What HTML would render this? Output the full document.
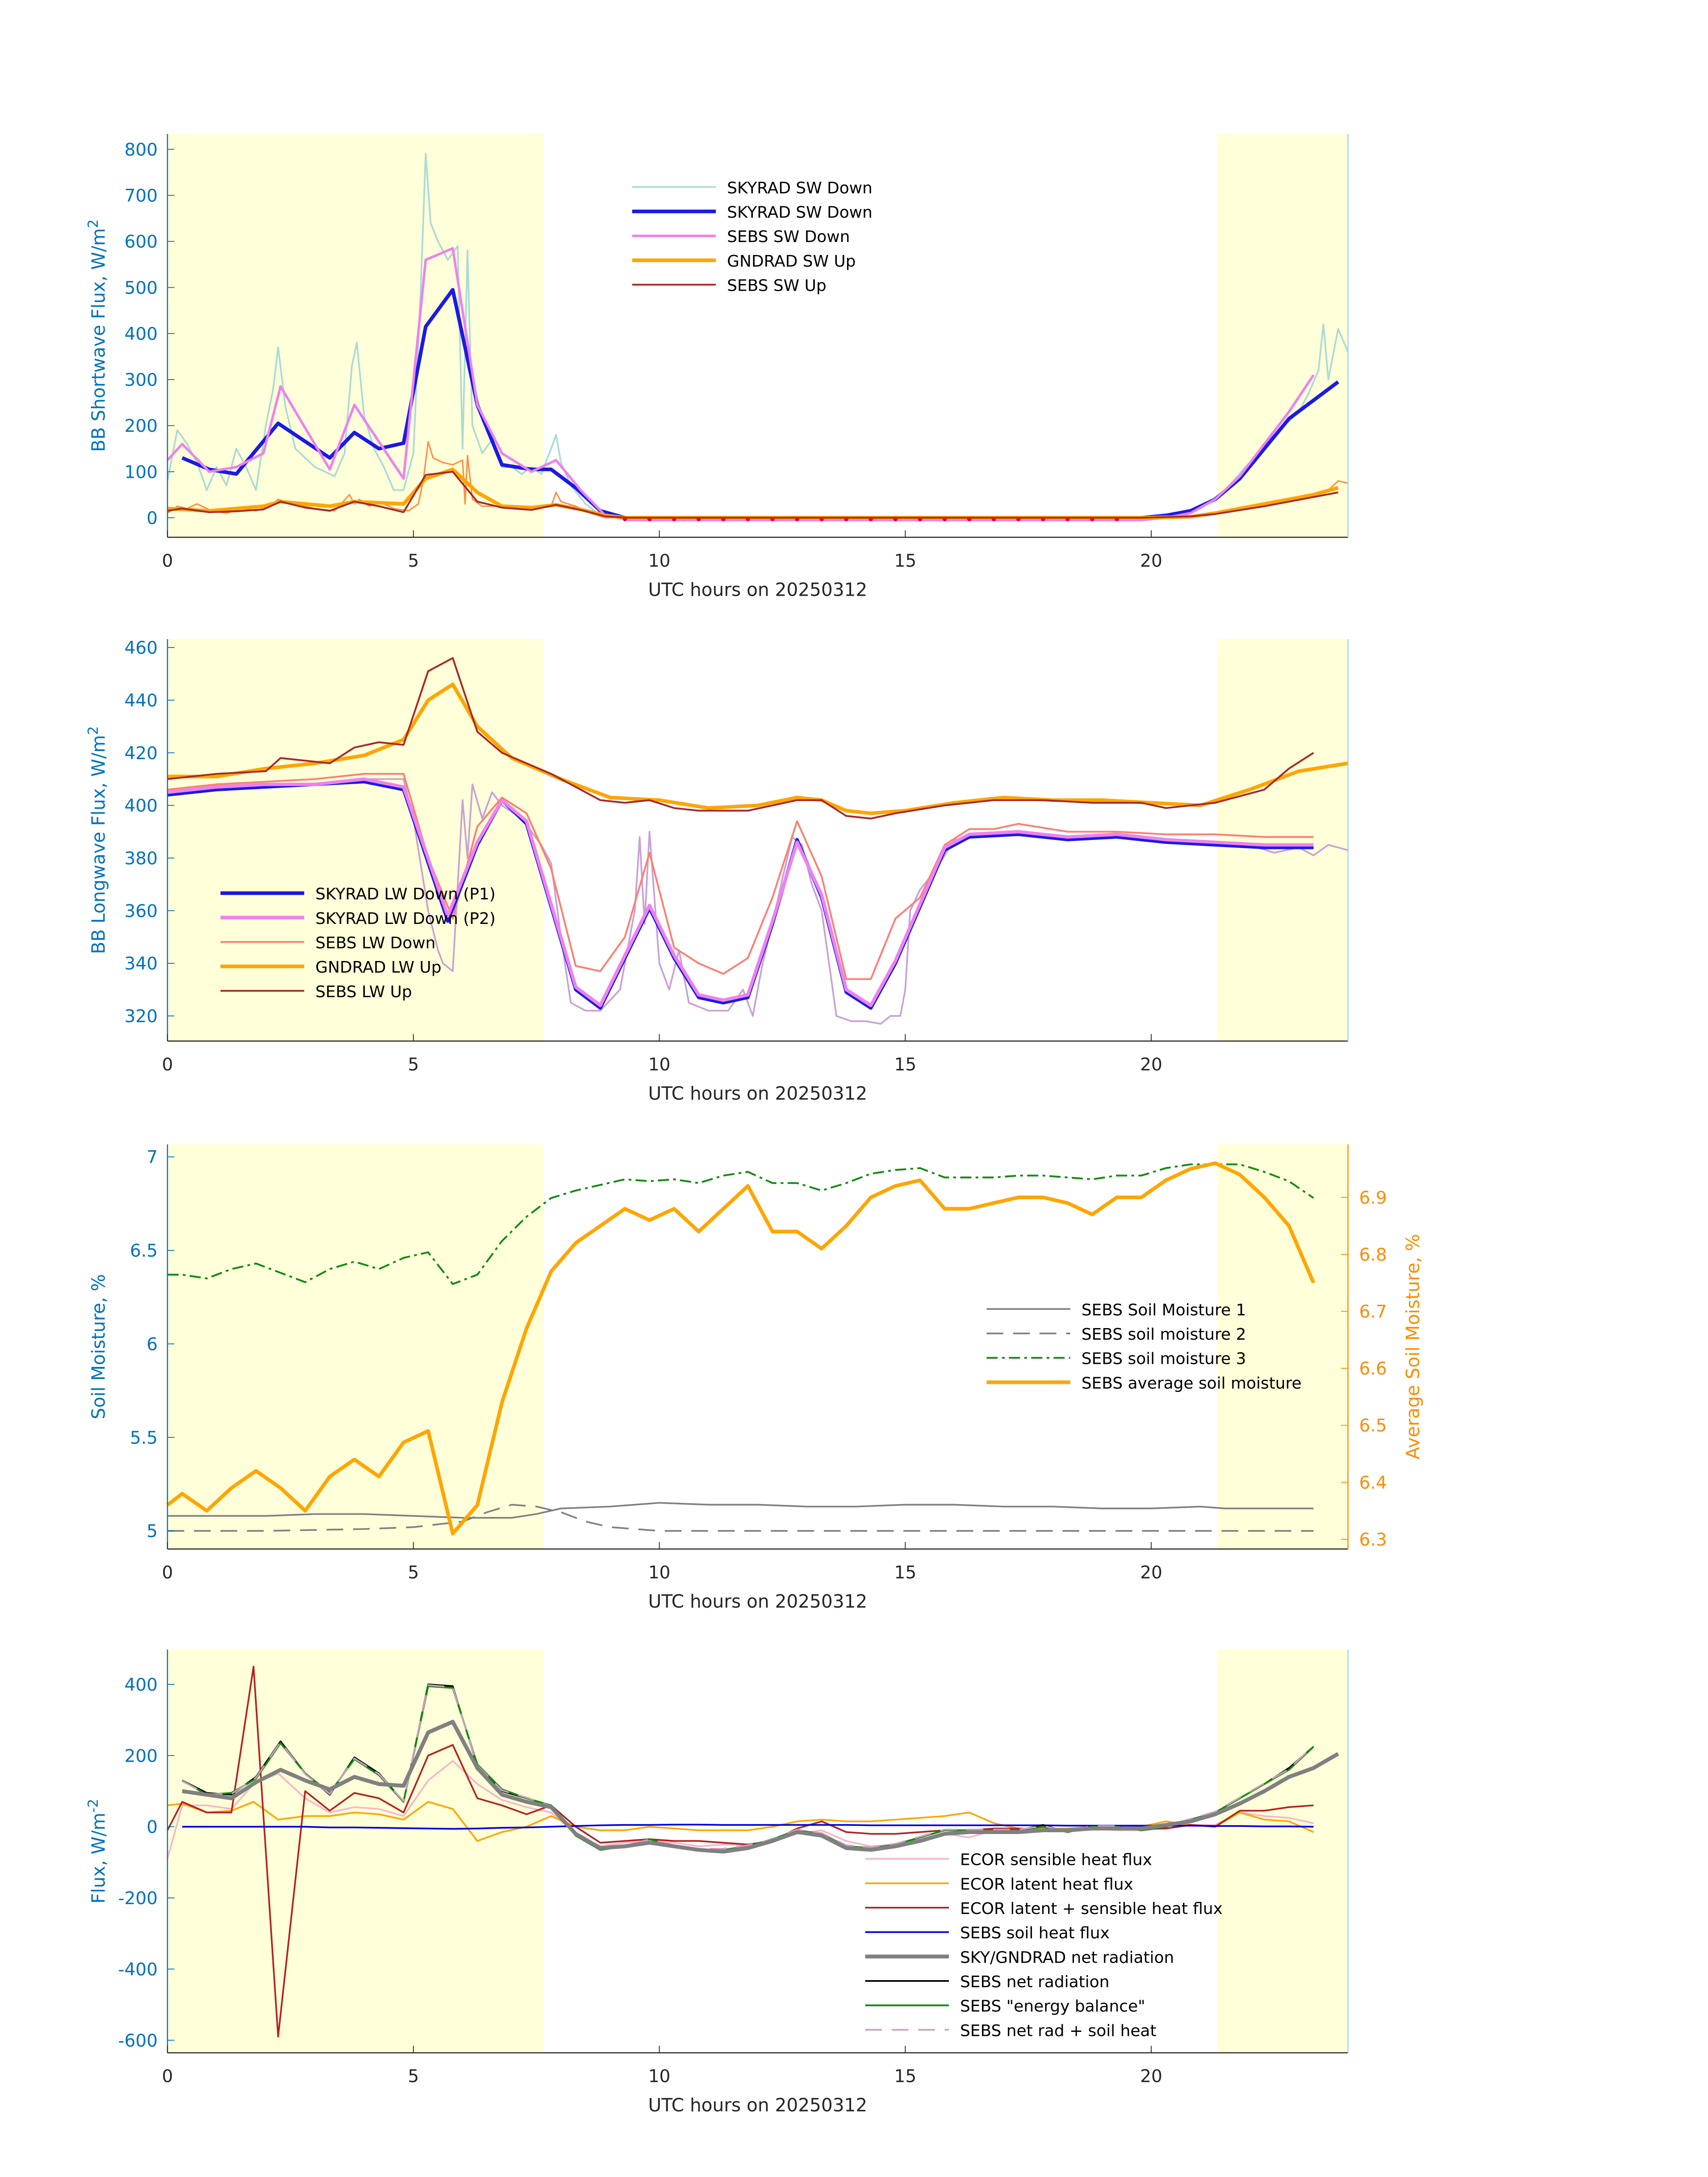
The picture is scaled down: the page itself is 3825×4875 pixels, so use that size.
<!DOCTYPE html>
<html><head><meta charset="utf-8">
<style>
html,body{margin:0;padding:0;background:#fff;}
svg{display:block;font-family:"DejaVu Sans","Liberation Sans",sans-serif;}
</style></head>
<body>
<svg id="fig" xmlns="http://www.w3.org/2000/svg" width="3825" height="4875" viewBox="0 0 1224 1560">
<rect x="0" y="0" width="1224" height="1560" fill="#fff"/>
</svg>
<script>
// ---------- Panel 1 data (shortwave) ----------
const swSkyRawH = [0,0.2,0.4,0.6,0.8,1.0,1.2,1.4,1.6,1.8,2.0,2.15,2.25,2.4,2.6,2.8,3.0,3.2,3.4,3.6,3.75,3.85,4.0,4.2,4.4,4.6,4.8,5.0,5.15,5.25,5.35,5.5,5.7,5.9,6.0,6.1,6.2,6.4,6.6,6.8,7.0,7.2,7.4,7.6,7.8,7.9,8.0,8.2,8.5,8.8,9.1,9.4,20,20.5,21,21.5,22,22.5,23,23.2,23.4,23.5,23.6,23.8,24];
const swSkyRawV = [80,190,160,120,60,110,70,150,110,60,200,280,370,240,150,130,110,100,90,140,330,380,220,150,110,60,60,140,500,790,640,600,560,590,150,580,200,140,170,110,110,95,110,95,150,180,120,70,30,5,0,0,0,5,20,60,120,180,230,270,320,420,300,410,360];
const swSkyH = [0.3,0.85,1.4,2.25,3.3,3.8,4.3,4.8,5.25,5.8,6.3,6.8,7.4,7.8,8.3,8.8,9.3,19.8,20.3,20.8,21.3,21.8,22.3,22.8,23.3,23.8];
const swSkyV = [130,105,95,205,130,185,150,162,415,495,245,115,105,105,65,15,0,0,5,15,40,85,150,215,255,295];
const swSebsDnH = [0,0.3,0.85,1.4,1.95,2.3,3.3,3.8,4.8,5.25,5.8,6.3,6.8,7.4,7.9,8.4,8.9,9.4,19.8,20.3,20.8,21.3,21.8,22.3,22.8,23.3];
const swSebsDnV = [125,160,100,110,140,285,105,245,85,560,585,245,140,100,125,60,5,-5,-5,0,10,40,90,160,230,310];
const swGndH = [0,0.85,1.95,2.3,3.3,3.8,4.8,5.25,5.8,6.3,6.8,7.4,7.9,8.4,8.9,9.3,19.8,20.8,21.3,22.3,23.3,23.8];
const swGndV = [20,15,25,35,25,35,30,85,105,55,25,22,28,18,5,0,0,2,10,30,50,65];
const swSebsUpH = [0,0.3,0.85,1.4,1.95,2.3,2.8,3.3,3.8,4.3,4.8,5.25,5.8,6.3,6.8,7.4,7.9,8.4,8.9,9.4,19.8,20.8,21.3,22.3,23.3,23.8];
const swSebsUpV = [15,20,12,14,18,35,22,15,35,25,12,93,100,35,22,17,28,17,3,0,0,3,8,25,45,55];
const swRawUpH = [0,0.2,0.4,0.6,0.9,1.2,1.5,1.8,2.1,2.25,2.4,2.6,3.0,3.4,3.7,3.8,3.9,4.1,4.3,4.6,4.9,5.1,5.2,5.3,5.4,5.6,5.8,6.0,6.05,6.1,6.2,6.4,6.7,7.0,7.4,7.8,7.9,8.0,8.3,8.6,8.9,20,21,22,23,23.4,23.6,23.8,24];
const swRawUpV = [10,25,20,30,15,10,20,15,25,40,35,30,20,15,50,30,40,25,35,20,15,30,80,165,130,120,115,125,30,135,40,25,25,20,20,25,55,35,25,10,0,0,5,25,40,55,60,80,75];
const swRedDotsH = [9.3,9.8,10.3,10.8,11.3,11.8,12.3,12.8,13.3,13.8,14.3,14.8,15.3,15.8,16.3,16.8,17.3,17.8,18.3,18.8,19.3];
const swTicks = [0,100,200,300,400,500,600,700,800];

// ---------- Panel 2 data (longwave) ----------
const lwP1H = [0,1,2,3,4,4.8,5.7,6.3,6.8,7.3,8.3,8.8,9.8,10.3,10.8,11.3,11.8,12.3,12.8,13.3,13.8,14.3,14.8,15.8,16.3,17.3,18.3,19.3,20.3,21.3,22.3,23.3];
const lwP1V = [404,406,407,408,409,406,356,385,402,393,330,323,361,342,327,325,327,355,387,365,329,323,340,383,388,389,387,388,386,385,384,384];
const lwP2V = [405,407,408,408,410,407,358,386,402,394,331,324,362,343,328,326,328,356,386,366,330,324,341,384,389,390,388,389,387,386,385,385];
const lwRawH = [0,1,2,3,4,4.8,5.0,5.3,5.5,5.6,5.8,6.0,6.1,6.2,6.4,6.6,6.8,7.2,7.6,7.8,8.0,8.2,8.5,8.8,9.2,9.5,9.6,9.7,9.8,10.0,10.2,10.4,10.6,11.0,11.4,11.7,11.9,12.1,12.3,12.5,12.7,12.9,13.1,13.3,13.6,13.9,14.2,14.5,14.7,14.9,15.0,15.1,15.3,15.6,16,17,18,19,20,21,22,22.5,23,23.3,23.6,24];
const lwRawV = [404,406,407,408,410,410,395,360,345,340,337,402,380,408,395,405,400,395,385,378,350,325,322,322,330,360,388,355,390,340,330,345,325,322,322,330,320,340,355,372,388,385,370,360,320,318,318,317,320,320,330,360,368,375,387,389,388,388,387,386,385,382,384,381,385,383];
const lwSebsDnH = [0,1,2,3,4,4.8,5.3,5.8,6.3,6.8,7.3,7.8,8.3,8.8,9.3,9.8,10.3,10.8,11.3,11.8,12.3,12.8,13.3,13.8,14.3,14.8,15.3,15.8,16.3,16.8,17.3,18.3,19.3,20.3,21.3,22.3,23.3];
const lwSebsDnV = [406,408,409,410,412,412,380,357,392,403,397,376,339,337,350,382,346,340,336,342,365,394,373,334,334,357,365,385,391,391,393,390,390,389,389,388,388];
const lwGndH = [0,1,2,3,4,4.8,5.3,5.8,6.3,7,8,9,10,11,12,12.8,13.3,13.8,14.3,15,16,17,18,19,20,21,22,23,24];
const lwGndV = [411,411,414,416,419,425,440,446,430,418,410,403,402,399,400,403,402,398,397,398,401,403,402,402,401,400,406,413,416];
const lwSebsUpH = [0,1,2,2.3,3.3,3.8,4.3,4.8,5.3,5.8,6.3,6.8,7.8,8.3,8.8,9.3,9.8,10.3,10.8,11.8,12.8,13.3,13.8,14.3,14.8,15.8,16.8,17.8,18.8,19.8,20.3,21.3,22.3,22.8,23.3];
const lwSebsUpV = [410,412,413,418,416,422,424,423,451,456,428,420,412,407,402,401,402,399,398,398,402,402,396,395,397,400,402,402,401,401,399,401,406,414,420];
const lwTicks = [320,340,360,380,400,420,440,460];

// ---------- Panel 3 data (soil moisture) ----------
const smH1 = [0,1,2,3,4,5,6,7,7.5,8,9,10,11,12,13,14,15,16,17,18,19,20,21,21.5,22,23,23.3];
const sm1V = [5.08,5.08,5.08,5.09,5.09,5.08,5.07,5.07,5.09,5.12,5.13,5.15,5.14,5.14,5.13,5.13,5.14,5.14,5.13,5.13,5.12,5.12,5.13,5.12,5.12,5.12,5.12];
const sm2H = [0,2,4,5,6,6.5,7,7.5,8,8.5,9,10,12,14,16,18,20,22,23.3];
const sm2V = [5.0,5.0,5.01,5.02,5.05,5.1,5.14,5.13,5.1,5.05,5.02,5.0,5.0,5.0,5.0,5.0,5.0,5.0,5.0];
const smH = [0,0.3,0.8,1.3,1.8,2.3,2.8,3.3,3.8,4.3,4.8,5.3,5.8,6.3,6.8,7.3,7.8,8.3,8.8,9.3,9.8,10.3,10.8,11.3,11.8,12.3,12.8,13.3,13.8,14.3,14.8,15.3,15.8,16.3,16.8,17.3,17.8,18.3,18.8,19.3,19.8,20.3,20.8,21.3,21.8,22.3,22.8,23.3];
const sm3V = [6.37,6.37,6.35,6.4,6.43,6.38,6.33,6.4,6.44,6.4,6.46,6.49,6.32,6.37,6.55,6.68,6.78,6.82,6.85,6.88,6.87,6.88,6.86,6.9,6.92,6.86,6.86,6.82,6.86,6.91,6.93,6.94,6.89,6.89,6.89,6.9,6.9,6.89,6.88,6.9,6.9,6.94,6.96,6.96,6.96,6.92,6.87,6.78];
const smAvgV = [6.36,6.38,6.35,6.39,6.42,6.39,6.35,6.41,6.44,6.41,6.47,6.49,6.31,6.36,6.54,6.67,6.77,6.82,6.85,6.88,6.86,6.88,6.84,6.88,6.92,6.84,6.84,6.81,6.85,6.9,6.92,6.93,6.88,6.88,6.89,6.9,6.9,6.89,6.87,6.9,6.9,6.93,6.95,6.96,6.94,6.9,6.85,6.75];
const smLeftTicks = [5,5.5,6,6.5,7];
const smRightTicks = [6.3,6.4,6.5,6.6,6.7,6.8,6.9];

// ---------- Panel 4 data (fluxes) ----------
const fxH = [0.3,0.8,1.3,1.8,2.3,2.8,3.3,3.8,4.3,4.8,5.3,5.8,6.3,6.8,7.3,7.8,8.3,8.8,9.3,9.8,10.3,10.8,11.3,11.8,12.3,12.8,13.3,13.8,14.3,14.8,15.3,15.8,16.3,16.8,17.3,17.8,18.3,18.8,19.3,19.8,20.3,20.8,21.3,21.8,22.3,22.8,23.3];
const fxNetGnd = [100,90,80,125,160,130,105,140,120,115,265,295,165,90,70,55,-20,-60,-55,-45,-55,-65,-70,-60,-40,-15,-25,-60,-65,-55,-40,-20,-15,-15,-15,-10,-10,-5,-5,-5,5,15,35,65,100,140,165];
const fxNetGndH2 = [23.8];
const fxNetGndV2 = [205];
const fxSebsNet = [130,95,90,140,240,150,90,195,150,70,400,395,170,100,80,60,-25,-65,-55,-35,-55,-65,-65,-55,-35,-10,-20,-55,-60,-50,-30,-10,-10,-10,-10,5,-15,0,0,-10,0,20,40,80,120,165,225];
const fxEnergyBal = [130,90,95,135,235,150,95,190,145,70,395,390,175,105,80,60,-25,-65,-55,-35,-55,-65,-65,-55,-35,-10,-20,-55,-60,-50,-30,-10,-10,-10,-10,0,-15,0,0,-10,0,20,40,80,120,160,225];
const fxNetSoil = [128,92,92,138,238,148,92,192,148,72,398,392,172,102,82,58,-22,-62,-52,-36,-52,-62,-62,-52,-36,-8,-18,-52,-58,-48,-28,-8,-8,-8,-8,2,-12,2,2,-8,2,22,42,82,122,162,228];
const fxEcorH = [0,0.3,0.8,1.3,1.75,2.25,2.8,3.3,3.8,4.3,4.8,5.3,5.8,6.3,6.8,7.3,7.8,8.3,8.8,9.3,9.8,10.3,10.8,11.3,11.8,12.3,12.8,13.3,13.8,14.3,14.8,15.3,15.8,16.3,16.8,17.3,17.8,18.3,18.8,19.3,19.8,20.3,20.8,21.3,21.8,22.3,22.8,23.3];
const fxSens = [-90,60,60,50,120,150,80,40,55,50,30,130,185,120,75,55,40,-20,-55,-45,-40,-45,-55,-50,-50,-40,-20,-10,-40,-55,-50,-35,-20,-30,-10,-10,-5,-10,-5,-10,-10,-5,5,5,40,30,25,10];
const fxLat = [60,65,40,45,70,20,30,30,40,35,20,70,50,-40,-15,0,30,0,-10,-10,0,-5,-10,-10,-10,0,15,20,15,15,20,25,30,40,10,-5,-5,-5,0,-5,0,15,5,0,40,20,15,-15];
const fxLatSens = [-10,70,40,40,450,-590,100,45,95,80,40,200,230,80,60,35,60,0,-45,-40,-35,-40,-40,-45,-50,-40,-5,15,-15,-20,-20,-15,-10,-10,-5,-5,-10,-10,-5,-5,-5,-5,5,0,45,45,55,60];
const fxSoil = [0,0,0,0,0,0,-2,-2,-3,-4,-5,-6,-5,-3,-2,0,2,4,5,5,6,6,5,5,5,5,5,5,4,4,4,4,4,4,4,4,3,3,3,3,3,3,2,2,1,1,0,0];
const fxTicks = [-600,-400,-200,0,200,400];

const xTicks = [0,5,10,15,20];
</script>
<script>
const NS = "http://www.w3.org/2000/svg";
const svg = document.getElementById('fig');
const AX_L = 120, AX_R = 966;
const X = h => AX_L + (AX_R - AX_L) * h / 24;
function el(tag, attrs, parent) {
  const e = document.createElementNS(NS, tag);
  for (const k in attrs) e.setAttribute(k, attrs[k]);
  (parent || svg).appendChild(e);
  return e;
}
function yScale(top, bottom, v0, p0, v1, p1) { return v => p0 + (v - v0) * (p1 - p0) / (v1 - v0); }
function line(hs, vs, Y, stroke, width, name, dash, g) {
  let d = '';
  for (let i = 0; i < hs.length && i < vs.length; i++) d += (i ? 'L' : 'M') + X(hs[i]).toFixed(2) + ' ' + Y(vs[i]).toFixed(2);
  const p = el('path', {d: d, fill: 'none', stroke: stroke, 'stroke-width': width, 'stroke-linejoin': 'round'}, g);
  if (dash) p.setAttribute('stroke-dasharray', dash);
  
  
  return p;
}
function panel(idx, top, bottom, ticks, Y, ylabel, sub) {
  const g = el('g', {});
  
  
  const s1 = el('rect', {x: X(0), y: top, width: X(7.65) - X(0), height: bottom - top, fill: '#ffffd9'}, g);
  
  
  const s2 = el('rect', {x: X(21.35), y: top, width: X(24) - X(21.35), height: bottom - top, fill: '#ffffd9'}, g);
  
  
  const plot = el('g', {}, g);
  
  
  const ax = el('g', {}, g);
  
  
  el('line', {x1: AX_L, y1: top, x2: AX_L, y2: bottom, stroke: '#0072BD', 'stroke-width': 0.8}, ax);
  el('line', {x1: AX_L, y1: bottom, x2: AX_R, y2: bottom, stroke: '#262626', 'stroke-width': 0.8}, ax);
  if (idx !== 3) el('line', {x1: AX_R, y1: top, x2: AX_R, y2: bottom, stroke: '#9fd3ef', 'stroke-width': 0.8}, ax);
  for (const t of xTicks) {
    el('line', {x1: X(t), y1: bottom, x2: X(t), y2: bottom - 5, stroke: '#262626', 'stroke-width': 0.6}, ax);
    const tx = el('text', {x: X(t), y: bottom + 21, 'font-size': 12.5, 'text-anchor': 'middle', fill: '#262626'}, ax);
    tx.textContent = t;
    
    
  }
  for (const t of ticks) {
    el('line', {x1: AX_L, y1: Y(t), x2: AX_L + 5, y2: Y(t), stroke: '#0072BD', 'stroke-width': 0.6}, ax);
    const ty = el('text', {x: AX_L - 7, y: Y(t) + 4.5, 'font-size': 12.5, 'text-anchor': 'end', fill: '#0072BD'}, ax);
    ty.textContent = t;
    
    
  }
  const xl = el('text', {x: 543, y: bottom + 42, 'font-size': 13, 'text-anchor': 'middle', fill: '#262626'}, ax);
  xl.textContent = 'UTC hours on 20250312';
  
  
  const cy = (top + bottom) / 2;
  const yl = el('text', {x: 0, y: 0, 'font-size': 13, 'text-anchor': 'middle', fill: '#0072BD', transform: 'translate(75,' + cy + ') rotate(-90)'}, ax);
  yl.textContent = ylabel;
  if (sub) { const ts = el('tspan', {dy: -5, 'font-size': 10}, yl); ts.textContent = sub; }
  
  
  return plot;
}
function legend(x, y0, dy, entries) {
  const g = el('g', {});
  
  
  entries.forEach((e, i) => {
    const y = y0 + i * dy;
    const item = el('g', {}, g);
    
    
    const l = el('line', {x1: x, y1: y, x2: x + 60, y2: y, stroke: e[1], 'stroke-width': e[2]}, item);
    if (e[3]) l.setAttribute('stroke-dasharray', e[3]);
    const t = el('text', {x: x + 68, y: y + 4.5, 'font-size': 11.5, fill: '#000'}, item);
    t.textContent = e[0];
  });
}

// Panel 1
{
  const Y = yScale(96, 385, 0, 371, 800, 107);
  const p = panel(1, 96, 385, swTicks, Y, 'BB Shortwave Flux, W/m', '2');
  line(swSkyRawH, swSkyRawV, Y, '#a9dbd6', 1.2, 'skyrad-sw-down-1min-line', null, p);
  line(swRawUpH, swRawUpV, Y, '#ff8c42', 1, 'sebs-sw-up-raw-line', null, p);
  line(swSkyH, swSkyV, Y, '#1a1ae6', 2.6, 'skyrad-sw-down-line', null, p);
  line(swSebsDnH, swSebsDnV, Y, '#ee82ee', 1.8, 'sebs-sw-down-line', null, p);
  line(swGndH, swGndV, Y, '#ffa500', 2.6, 'gndrad-sw-up-line', null, p);
  line(swSebsUpH, swSebsUpV, Y, '#a52a2a', 1.3, 'sebs-sw-up-line', null, p);
  for (const h of swRedDotsH) {
    const c = el('circle', {cx: X(h), cy: Y(-3), r: 1.5, fill: '#ff0000'}, p);
    
    
  }
  legend(453, 134, 17.5, [['SKYRAD SW Down', '#a9dbd6', 1.2], ['SKYRAD SW Down', '#1a1ae6', 2.6], ['SEBS SW Down', '#ee82ee', 1.8], ['GNDRAD SW Up', '#ffa500', 2.6], ['SEBS SW Up', '#a52a2a', 1.3]]);
}
// Panel 2
{
  const Y = yScale(458, 746, 320, 728, 460, 464);
  const p = panel(2, 458, 746, lwTicks, Y, 'BB Longwave Flux, W/m', '2');
  line(lwRawH, lwRawV, Y, '#c9a0d6', 1.2, 'skyrad-lw-down-1min-line', null, p);
  line(lwSebsDnH, lwSebsDnV, Y, '#fa8072', 1.3, 'sebs-lw-down-line', null, p);
  line(lwP1H, lwP1V, Y, '#1a1ae6', 2.4, 'skyrad-lw-down-p1-line', null, p);
  line(lwP1H, lwP2V, Y, '#ee82ee', 2.4, 'skyrad-lw-down-p2-line', null, p);
  line(lwGndH, lwGndV, Y, '#ffa500', 2.6, 'gndrad-lw-up-line', null, p);
  line(lwSebsUpH, lwSebsUpV, Y, '#a52a2a', 1.3, 'sebs-lw-up-line', null, p);
  legend(158, 640, 17.5, [['SKYRAD LW Down (P1)', '#1a1ae6', 2.6], ['SKYRAD LW Down (P2)', '#ee82ee', 2.6], ['SEBS LW Down', '#fa8072', 1.3], ['GNDRAD LW Up', '#ffa500', 2.6], ['SEBS LW Up', '#a52a2a', 1.3]]);
}
// Panel 3
{
  const Y = yScale(820, 1110, 5, 1097, 7, 829);
  const YR = yScale(820, 1110, 6.3, 1103, 6.9, 858);
  const p = panel(3, 820, 1110, smLeftTicks, Y, 'Soil Moisture, %', '');
  const ra = el('g', {});
  
  
  el('line', {x1: AX_R, y1: 820, x2: AX_R, y2: 1110, stroke: '#ff8c00', 'stroke-width': 0.8}, ra);
  for (const t of smRightTicks) {
    el('line', {x1: AX_R, y1: YR(t), x2: AX_R - 5, y2: YR(t), stroke: '#ff8c00', 'stroke-width': 0.6}, ra);
    const tt = el('text', {x: AX_R + 8, y: YR(t) + 4.5, 'font-size': 12.5, fill: '#ff8c00'}, ra);
    tt.textContent = t.toFixed(1);
    
    
  }
  const rl = el('text', {x: 0, y: 0, 'font-size': 13, 'text-anchor': 'middle', fill: '#ff8c00', transform: 'translate(1017,965) rotate(-90)'}, ra);
  rl.textContent = 'Average Soil Moisture, %';
  
  
  line(smH1, sm1V, Y, '#808080', 1.2, 'sebs-soil-moisture-1-line', null, p);
  line(sm2H, sm2V, Y, '#808080', 1.2, 'sebs-soil-moisture-2-line', '12,7', p);
  line(smH, sm3V, Y, '#138a13', 1.3, 'sebs-soil-moisture-3-line', '8,3,2,3', p);
  line(smH, smAvgV, YR, '#ffa500', 2.6, 'sebs-average-soil-moisture-line', null, p);
  legend(707, 938, 17.5, [['SEBS Soil Moisture 1', '#808080', 1.2], ['SEBS soil moisture 2', '#808080', 1.2, '12,7'], ['SEBS soil moisture 3', '#138a13', 1.3, '8,3,2,3'], ['SEBS average soil moisture', '#ffa500', 2.6]]);
}
// Panel 4
{
  const Y = yScale(1182, 1471, 0, 1309, 400, 1207);
  const p = panel(4, 1182, 1471, fxTicks, Y, 'Flux, W/m', '-2');
  line(fxEcorH, fxSens, Y, '#f7b6c8', 1.2, 'ecor-sensible-heat-line', null, p);
  line(fxEcorH, fxLat, Y, '#ffa500', 1.2, 'ecor-latent-heat-line', null, p);
  line(fxEcorH, fxLatSens, Y, '#b22222', 1.2, 'ecor-latent-sensible-line', null, p);
  line(fxH, fxSoil, Y, '#0000e0', 1.2, 'sebs-soil-heat-line', null, p);
  line(fxH, fxSebsNet, Y, '#000000', 1.2, 'sebs-net-radiation-line', null, p);
  line(fxH, fxEnergyBal, Y, '#138a13', 1.3, 'sebs-energy-balance-line', null, p);
  line(fxH, fxNetSoil, Y, '#c9a0c0', 1.2, 'sebs-net-rad-soil-heat-line', '12,7', p);
  line(fxH.concat(fxNetGndH2), fxNetGnd.concat(fxNetGndV2), Y, '#808080', 2.8, 'sky-gndrad-net-radiation-line', null, p);
  legend(620, 1332, 17.5, [['ECOR sensible heat flux', '#f7b6c8', 1.2], ['ECOR latent heat flux', '#ffa500', 1.2], ['ECOR latent + sensible heat flux', '#b22222', 1.2], ['SEBS soil heat flux', '#0000e0', 1.2], ['SKY/GNDRAD net radiation', '#808080', 2.8], ['SEBS net radiation', '#000000', 1.2], ['SEBS "energy balance"', '#138a13', 1.3], ['SEBS net rad + soil heat', '#c9a0c0', 1.2, '12,7']]);
}
</script>
</body></html>
